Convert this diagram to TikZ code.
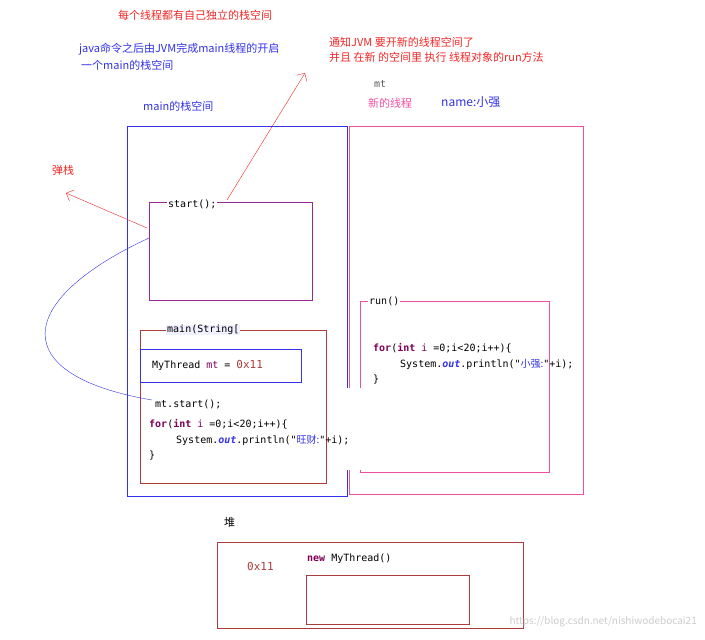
\documentclass[tikz,border=0pt]{standalone}
\usepackage{fontspec}
\usetikzlibrary{arrows.meta}
\setmainfont{Noto Sans CJK SC}
\newfontfamily\cjk{Noto Sans CJK SC}
\newfontfamily\code{DejaVu Sans Mono}
\definecolor{kw}{RGB}{127,0,85}
\definecolor{bl}{RGB}{50,50,230}
\definecolor{pk}{RGB}{240,80,160}
\definecolor{br}{RGB}{170,60,60}
\definecolor{pu}{RGB}{150,40,150}
\definecolor{rd}{RGB}{240,40,40}
\tikzset{t/.style={anchor=west,inner sep=0pt,font=\cjk\fontsize{11}{12}\selectfont},
 c/.style={anchor=west,inner sep=0pt,font=\code\fontsize{10}{11}\selectfont},
 lbl/.style={c,fill=white,inner xsep=1pt}}
\newcommand{\kw}[1]{\textcolor{kw}{\textbf{#1}}}
\newcommand{\ou}[1]{\textcolor{bl}{\textbf{\textit{#1}}}}
\begin{document}
\begin{tikzpicture}[x=1pt,y=-1pt]
\useasboundingbox[fill=white] (0,0) rectangle (705,640);
% boxes
\draw[bl,thick] (127,126) rectangle (347,496);
\draw[pk] (349,126) rectangle (583,494);
\draw[pu] (149,202) rectangle (312,300);
\node[lbl] (st) at (167,204) {start();};
\draw[br] (140,330) rectangle (326,483);
\node[lbl,fill=blue!6] (ms) at (166,330) {main(String[};
\draw[bl] (140,349) rectangle (301,382);
\node[c] (mt) at (152,365) {MyThread \textcolor{kw}{mt} =  \textcolor{br}{\fontsize{11}{12}\selectfont 0x11}};
\draw[pk] (360,301) rectangle (549,472);
\node[lbl] (run) at (368,301) {run()};
\node[c] at (373,348) {\kw{for}(\kw{int} \textcolor{kw}{i} =0;i<20;i++)\{};
\node[c] at (400,364) {System.\ou{out}.println("\textcolor{bl}{\cjk 小强:}"+i);};
\node[c] at (373,380) {\}};
\fill[white] (330,388) rectangle (388,470);
\node[c] (mst) at (155,404) {mt.start();};
\node[c] at (149,424) {\kw{for}(\kw{int} \textcolor{kw}{i} =0;i<20;i++)\{};
\node[c] at (176,440) {System.\ou{out}.println("\textcolor{bl}{\cjk 旺财:}"+i);};
\node[c] at (149,456) {\}};
% heap
\node[t] at (224,522) {堆};
\draw[br] (217,542) rectangle (523,628);
\node[c,font=\code\fontsize{11}{12}\selectfont,text=br] at (247,566) {0x11};
\node[c] at (307,559) {\kw{new} MyThread()};
\draw[br] (306,575) rectangle (469,624);
\node[anchor=east,inner sep=0pt,text=gray!40,font=\cjk\fontsize{10}{11}\selectfont] at (697,622) {https://blog.csdn.net/nishiwodebocai21};
% texts
\node[t,text=rd] at (118,15) {每个线程都有自己独立的栈空间};
\node[t,text=bl] at (79,49) {java命令之后由JVM完成main线程的开启};
\node[t,text=bl] at (81,65) {一个main的栈空间};
\node[t,text=bl] at (143,106) {main的栈空间};
\node[t,text=rd] at (329,42) {通知JVM 要开新的线程空间了};
\node[t,text=rd] at (329,57) {并且 在新 的空间里 执行 线程对象的run方法};
\node[c,text=gray!70!black] at (374,84) {mt};
\node[t,text=pk] at (368,103) {新的线程};
\node[t,text=bl,font=\cjk\fontsize{12}{13}\selectfont] at (441,102) {name:小强};
\node[t,text=rd] (tz) at (52,170) {弹栈};
% arrows
\coordinate (a1) at (227,200); \coordinate (a2) at (305,73);
\draw[rd,-{Straight Barb[length=6pt]}] (a1) -- (a2);
\coordinate (b1) at (147,228); \coordinate (b2) at (66,193);
\draw[rd,-{Straight Barb[length=6pt]}] (b1) -- (b2);
\coordinate (c1) at (152,400); \coordinate (c2) at (149,238);
\draw[bl] (c1) .. controls (5,375) and (15,300) .. (c2);
\end{tikzpicture}
\end{document}
